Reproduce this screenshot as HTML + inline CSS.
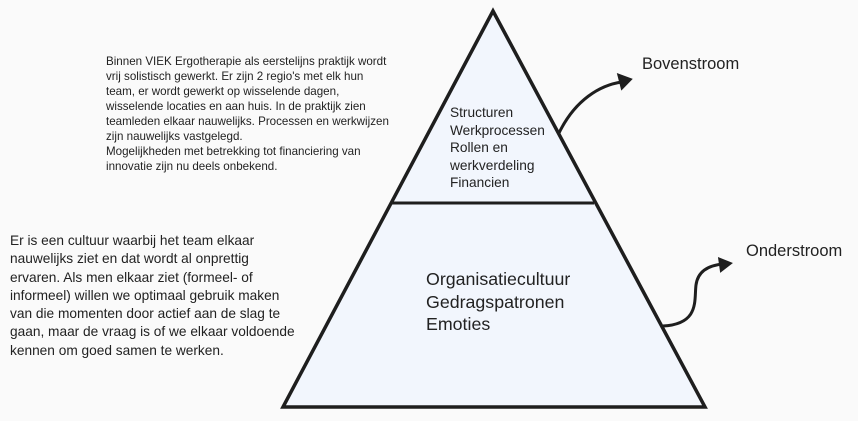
<!DOCTYPE html>
<html><head><meta charset="utf-8"><style>
body{margin:0;width:858px;height:421px;background:#fafafa;position:relative;overflow:hidden;font-family:"Liberation Sans",sans-serif;color:#222}
.t{position:absolute;white-space:nowrap}
</style></head><body>
<svg width="858" height="421" style="position:absolute;left:0;top:0">
<polygon points="493,11 283,407 705,407" fill="#f2f6fd" stroke="#1e1e1e" stroke-width="3.5" stroke-linejoin="miter"/>
<line x1="392" y1="203" x2="594" y2="203" stroke="#1e1e1e" stroke-width="3"/>
<path d="M559,133 C575,100 600,85 622,82" fill="none" stroke="#1e1e1e" stroke-width="3"/>
<polygon points="618,72 633,80 620,90" fill="#1e1e1e" transform="rotate(-8 625 81)"/>
<path d="M663,326 C700,324 694,300 696,285 C698,270 710,265 724,264" fill="none" stroke="#1e1e1e" stroke-width="3"/>
<polygon points="719,256 733,264 719,272" fill="#1e1e1e" transform="rotate(-8 726 264)"/>
</svg>
<div class="t" style="left:106px;top:54px;font-size:11.6px;line-height:15px">Binnen VIEK Ergotherapie als eerstelijns praktijk wordt<br>vrij solistisch gewerkt. Er zijn 2 regio's met elk hun<br>team, er wordt gewerkt op wisselende dagen,<br>wisselende locaties en aan huis. In de praktijk zien<br>teamleden elkaar nauwelijks. Processen en werkwijzen<br>zijn nauwelijks vastgelegd.<br>Mogelijkheden met betrekking tot financiering van<br>innovatie zijn nu deels onbekend.</div>
<div class="t" style="left:10px;top:232px;font-size:13.7px;line-height:18.3px">Er is een cultuur waarbij het team elkaar<br>nauwelijks ziet en dat wordt al onprettig<br>ervaren. Als men elkaar ziet (formeel- of<br>informeel) willen we optimaal gebruik maken<br>van die momenten door actief aan de slag te<br>gaan, maar de vraag is of we elkaar voldoende<br>kennen om goed samen te werken.</div>
<div class="t" style="left:450px;top:104px;font-size:13.7px;line-height:17.5px">Structuren<br>Werkprocessen<br>Rollen en<br>werkverdeling<br>Financien</div>
<div class="t" style="left:426px;top:268px;font-size:17.8px;line-height:22.5px">Organisatiecultuur<br>Gedragspatronen<br>Emoties</div>
<div class="t" style="left:642px;top:55px;font-size:16.5px">Bovenstroom</div>
<div class="t" style="left:746px;top:242px;font-size:16.5px">Onderstroom</div>
</body></html>
